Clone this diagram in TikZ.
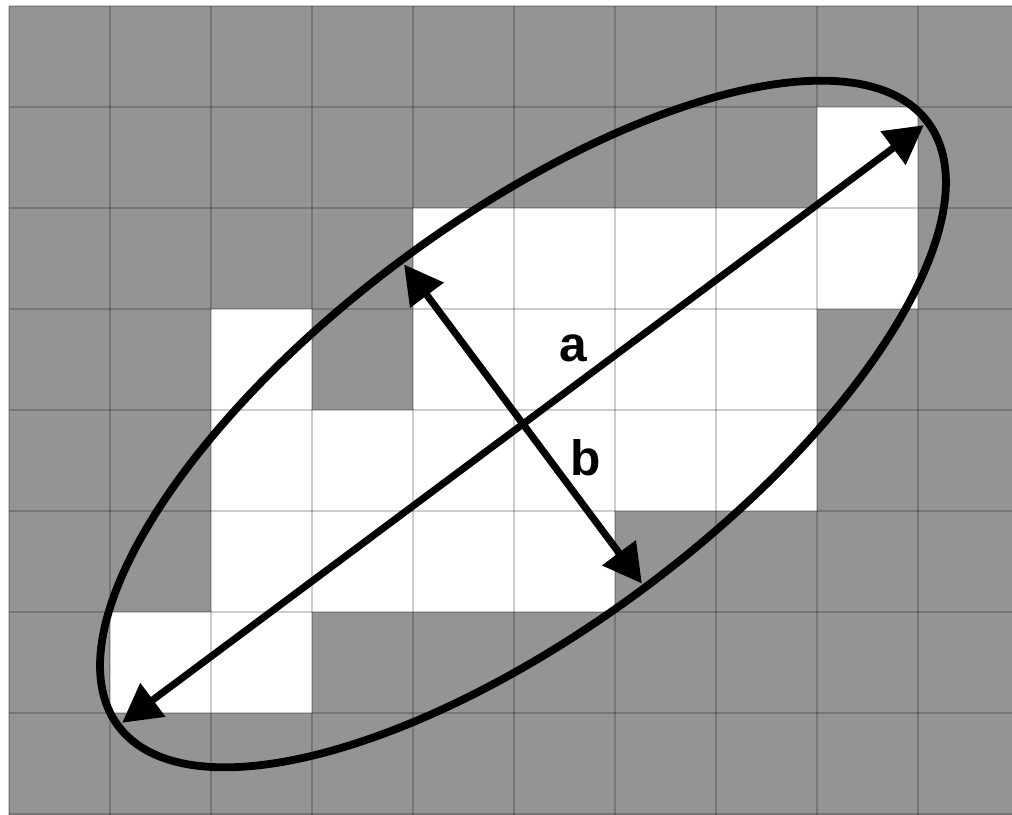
\documentclass[tikz,border=0pt]{standalone}
\usepackage{fontspec}
\setsansfont{Liberation Sans}
\usepackage{tikz}
\usetikzlibrary{arrows.meta,calc}
\definecolor{cellgray}{HTML}{949494}
\definecolor{inkblack}{HTML}{000000}
\tikzset{
  cellbg/.style={fill=cellgray},
  cellon/.style={fill=white},
  gridln/.style={draw=inkblack, draw opacity=0.2, line width=0.5pt},
  hull/.style={draw=inkblack, line width=2.2pt},
  axis/.style={{Triangle[length=0.38cm,width=0.40cm]}-{Triangle[length=0.38cm,width=0.40cm]},
    line width=2pt, color=inkblack},
  axlabel/.style={font=\sffamily\bfseries\fontsize{14}{16}\selectfont, text=inkblack, inner sep=0pt},
}

\begin{document}
\begin{tikzpicture}[x=1cm,y=1cm]
  \useasboundingbox (-0.089,-0.01) rectangle (9.931,8.059);
  \fill[cellbg] (0,-0.01) rectangle (9.931,8);
  % pixels inside the region
  \foreach \cx/\cy in {8/6, 4/5,5/5,6/5,7/5,8/5, 2/4,4/4,5/4,6/4,7/4,
                       2/3,3/3,4/3,5/3,6/3,7/3, 2/2,3/2,4/2,5/2, 1/1,2/1} {
    \fill[cellon] (\cx,\cy) rectangle ++(1,1);
  }
  \foreach \gx in {0,...,9} {
    \draw[gridln] (\gx,-0.01) -- (\gx,8);
  }
  \foreach \gy in {0,...,8} {
    \draw[gridln] (0,\gy) -- (9.931,\gy);
  }
  % fitted ellipse and its axes
  \coordinate (ctr) at (5.089,3.861);
  \begin{scope}[shift={(ctr)}, rotate=36.7]
    \draw[hull] (0,0) ellipse (5.0 and 2.02);
    \coordinate (majL) at (-4.95,0);
    \coordinate (majR) at (4.95,0);
    \coordinate (minT) at (0,1.97);
    \coordinate (minB) at (0,-1.97);
  \end{scope}
  \draw[axis] (majL) -- (majR);
  \draw[axis] (minT) -- (minB);
  \node[axlabel] (la) at (5.584,4.614) {a};
  \node[axlabel] (lb) at (5.713,3.525) {b};
\end{tikzpicture}
\end{document}
